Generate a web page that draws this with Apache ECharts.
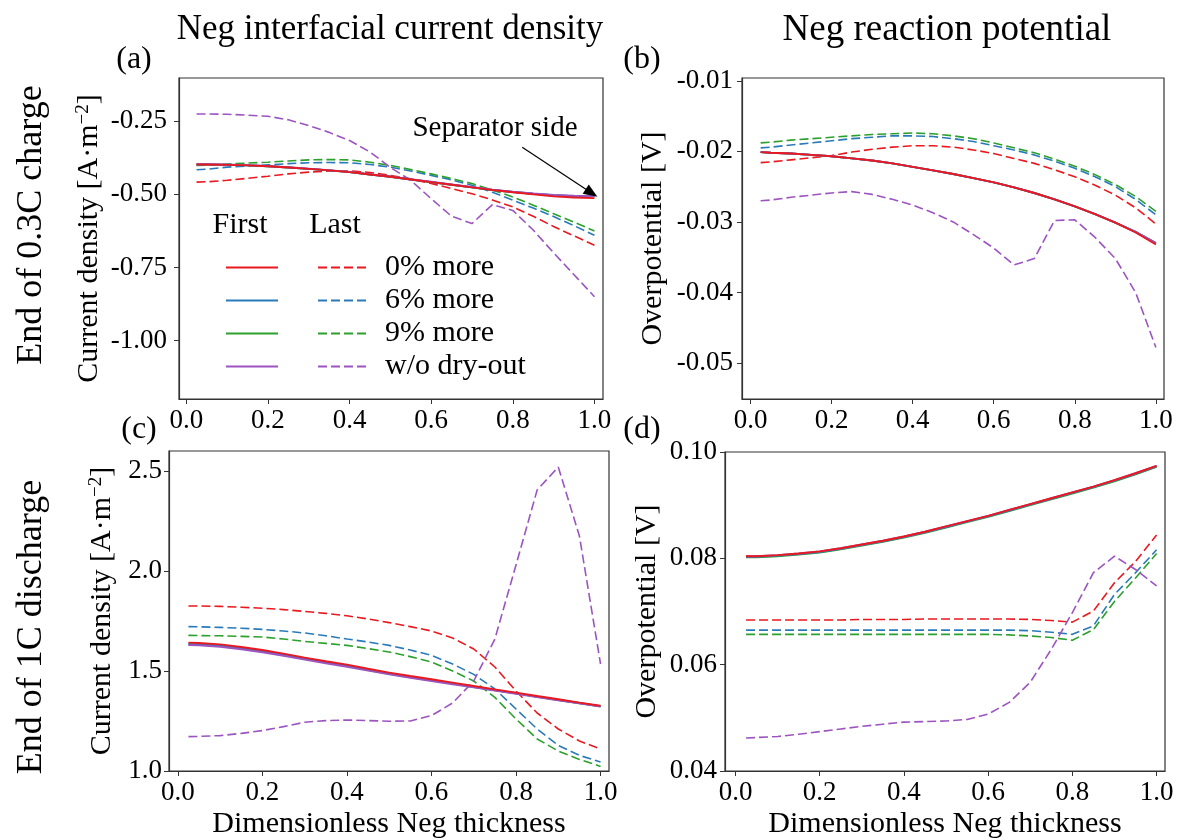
<!DOCTYPE html>
<html lang="en">
<head>
<meta charset="utf-8">
<script src="https://cdn.jsdelivr.net/npm/echarts@6/dist/echarts.min.js"></script>
</head>
<body style="margin:0">
<div id="container" style="width:1177px;height:840px"></div>
<script>
// dimensionless position across the negative electrode
var xs = [0.025, 0.05, 0.10, 0.15, 0.20, 0.25, 0.30, 0.35, 0.40, 0.45, 0.50,
          0.55, 0.60, 0.65, 0.70, 0.75, 0.80, 0.85, 0.90, 0.95, 1.00];
var cases = ['0% more', '6% more', '9% more', 'w/o dry-out'];
var xTicks = [0, 0.2, 0.4, 0.6, 0.8, 1.0];

// (a) end of 0.3C charge, current density
var aFirst0 = [-0.398, -0.398, -0.399, -0.401, -0.404, -0.408, -0.413, -0.418, -0.424, -0.432, -0.440, -0.449, -0.458, -0.467, -0.476, -0.485, -0.493, -0.500, -0.507, -0.511, -0.513];
var aFirst6 = [-0.398, -0.398, -0.399, -0.401, -0.404, -0.408, -0.413, -0.418, -0.424, -0.432, -0.440, -0.449, -0.458, -0.467, -0.476, -0.485, -0.492, -0.498, -0.503, -0.506, -0.507];
var aFirst9 = [-0.398, -0.398, -0.399, -0.401, -0.404, -0.408, -0.413, -0.418, -0.424, -0.432, -0.440, -0.449, -0.458, -0.467, -0.476, -0.485, -0.492, -0.498, -0.503, -0.506, -0.507];
var aFirstDry = [-0.397, -0.397, -0.398, -0.400, -0.403, -0.407, -0.412, -0.417, -0.423, -0.431, -0.439, -0.448, -0.457, -0.466, -0.475, -0.484, -0.491, -0.497, -0.502, -0.505, -0.506];
var aLast0 = [-0.458, -0.457, -0.452, -0.445, -0.438, -0.430, -0.424, -0.420, -0.420, -0.425, -0.435, -0.447, -0.463, -0.480, -0.498, -0.519, -0.543, -0.575, -0.610, -0.642, -0.674];
var aLast6 = [-0.416, -0.414, -0.407, -0.403, -0.399, -0.395, -0.392, -0.391, -0.392, -0.398, -0.407, -0.420, -0.435, -0.451, -0.469, -0.493, -0.520, -0.547, -0.576, -0.607, -0.640];
var aLast9 = [-0.401, -0.400, -0.396, -0.393, -0.390, -0.386, -0.382, -0.381, -0.382, -0.390, -0.401, -0.415, -0.430, -0.446, -0.463, -0.485, -0.509, -0.537, -0.566, -0.595, -0.625];
var aLastDry = [-0.225, -0.225, -0.226, -0.229, -0.233, -0.245, -0.265, -0.288, -0.316, -0.355, -0.408, -0.452, -0.515, -0.575, -0.600, -0.535, -0.555, -0.622, -0.700, -0.775, -0.850];
var aTicks = [-1.0, -0.75, -0.5, -0.25];

// (b) end of 0.3C charge, overpotential
var bFirst0 = [-0.0201, -0.0202, -0.0203, -0.0205, -0.0207, -0.0210, -0.0213, -0.0217, -0.0222, -0.0227, -0.0232, -0.0238, -0.0244, -0.0251, -0.0259, -0.0268, -0.0278, -0.0289, -0.0301, -0.0315, -0.0332];
var bFirst6 = [-0.0201, -0.0202, -0.0203, -0.0205, -0.0207, -0.0210, -0.0213, -0.0217, -0.0222, -0.0227, -0.0232, -0.0238, -0.0244, -0.0251, -0.0259, -0.0268, -0.0278, -0.0289, -0.0301, -0.0314, -0.0330];
var bFirst9 = [-0.0201, -0.0202, -0.0203, -0.0205, -0.0207, -0.0210, -0.0213, -0.0217, -0.0222, -0.0227, -0.0232, -0.0238, -0.0244, -0.0251, -0.0259, -0.0268, -0.0278, -0.0289, -0.0301, -0.0314, -0.0330];
var bFirstDry = [-0.0201, -0.0202, -0.0203, -0.0205, -0.0207, -0.0210, -0.0213, -0.0217, -0.0222, -0.0227, -0.0232, -0.0238, -0.0244, -0.0251, -0.0259, -0.0268, -0.0278, -0.0289, -0.0301, -0.0314, -0.0330];
var bLast0 = [-0.0216, -0.0215, -0.0212, -0.0209, -0.0206, -0.0201, -0.0197, -0.0194, -0.0192, -0.0192, -0.0194, -0.0198, -0.0203, -0.0210, -0.0217, -0.0226, -0.0236, -0.0248, -0.0262, -0.0280, -0.0303];
var bLast6 = [-0.0195, -0.0194, -0.0191, -0.0188, -0.0185, -0.0182, -0.0180, -0.0178, -0.0178, -0.0179, -0.0182, -0.0186, -0.0192, -0.0198, -0.0205, -0.0214, -0.0224, -0.0236, -0.0250, -0.0268, -0.0290];
var bLast9 = [-0.0188, -0.0187, -0.0184, -0.0182, -0.0180, -0.0178, -0.0176, -0.0175, -0.0174, -0.0175, -0.0178, -0.0182, -0.0188, -0.0195, -0.0202, -0.0211, -0.0221, -0.0233, -0.0247, -0.0264, -0.0285];
var bLastDry = [-0.0270, -0.0269, -0.0265, -0.0262, -0.0259, -0.0257, -0.0261, -0.0268, -0.0276, -0.0287, -0.0300, -0.0318, -0.0337, -0.0361, -0.0352, -0.0298, -0.0297, -0.0322, -0.0352, -0.0400, -0.0478];
var bTicks = [-0.05, -0.04, -0.03, -0.02, -0.01];

// (c) end of 1C discharge, current density
var cFirst0 = [1.642, 1.640, 1.633, 1.620, 1.605, 1.587, 1.567, 1.549, 1.532, 1.511, 1.492, 1.475, 1.459, 1.442, 1.425, 1.408, 1.392, 1.375, 1.359, 1.342, 1.326];
var cFirst6 = [1.635, 1.633, 1.626, 1.614, 1.599, 1.581, 1.562, 1.544, 1.526, 1.506, 1.487, 1.470, 1.454, 1.438, 1.421, 1.405, 1.389, 1.372, 1.356, 1.340, 1.324];
var cFirst9 = [1.634, 1.632, 1.625, 1.613, 1.598, 1.580, 1.561, 1.543, 1.525, 1.505, 1.486, 1.469, 1.453, 1.437, 1.420, 1.404, 1.388, 1.371, 1.355, 1.339, 1.323];
var cFirstDry = [1.630, 1.628, 1.621, 1.609, 1.594, 1.576, 1.557, 1.539, 1.521, 1.502, 1.483, 1.466, 1.450, 1.434, 1.418, 1.402, 1.386, 1.370, 1.354, 1.338, 1.322];
var cLast0 = [1.825, 1.825, 1.823, 1.819, 1.814, 1.807, 1.798, 1.788, 1.776, 1.760, 1.742, 1.722, 1.700, 1.665, 1.610, 1.520, 1.400, 1.290, 1.210, 1.150, 1.110];
var cLast6 = [1.722, 1.721, 1.718, 1.714, 1.708, 1.700, 1.690, 1.676, 1.660, 1.645, 1.628, 1.605, 1.578, 1.535, 1.483, 1.410, 1.310, 1.210, 1.128, 1.078, 1.045];
var cLast9 = [1.678, 1.677, 1.676, 1.673, 1.670, 1.660, 1.648, 1.638, 1.628, 1.612, 1.595, 1.572, 1.545, 1.500, 1.450, 1.368, 1.260, 1.160, 1.100, 1.058, 1.023];
var cLastDry = [1.172, 1.173, 1.177, 1.188, 1.202, 1.222, 1.244, 1.252, 1.255, 1.252, 1.249, 1.250, 1.277, 1.340, 1.450, 1.660, 2.030, 2.405, 2.520, 2.175, 1.535];
var cTicks = [1.0, 1.5, 2.0, 2.5];

// (d) end of 1C discharge, overpotential
var dFirst0 = [0.0804, 0.0804, 0.0806, 0.0809, 0.0813, 0.0819, 0.0826, 0.0833, 0.0841, 0.0850, 0.0860, 0.0870, 0.0880, 0.0891, 0.0902, 0.0913, 0.0924, 0.0935, 0.0947, 0.0960, 0.0974];
var dFirst6 = [0.0803, 0.0803, 0.0805, 0.0808, 0.0812, 0.0818, 0.0825, 0.0832, 0.0840, 0.0849, 0.0859, 0.0869, 0.0879, 0.0890, 0.0901, 0.0912, 0.0923, 0.0934, 0.0946, 0.0959, 0.0973];
var dFirst9 = [0.0802, 0.0802, 0.0804, 0.0807, 0.0811, 0.0817, 0.0824, 0.0831, 0.0839, 0.0848, 0.0858, 0.0868, 0.0878, 0.0889, 0.0900, 0.0911, 0.0922, 0.0933, 0.0945, 0.0958, 0.0972];
var dFirstDry = [0.0804, 0.0804, 0.0806, 0.0809, 0.0813, 0.0819, 0.0826, 0.0833, 0.0841, 0.0850, 0.0860, 0.0870, 0.0880, 0.0891, 0.0902, 0.0913, 0.0924, 0.0935, 0.0947, 0.0960, 0.0974];
var dLast0 = [0.0684, 0.0684, 0.0684, 0.0684, 0.0684, 0.0684, 0.0685, 0.0685, 0.0685, 0.0686, 0.0686, 0.0686, 0.0686, 0.0686, 0.0685, 0.0683, 0.0680, 0.0701, 0.0754, 0.0794, 0.0844];
var dLast6 = [0.0665, 0.0665, 0.0665, 0.0665, 0.0665, 0.0665, 0.0665, 0.0665, 0.0665, 0.0665, 0.0665, 0.0665, 0.0665, 0.0665, 0.0664, 0.0661, 0.0657, 0.0673, 0.0732, 0.0773, 0.0816];
var dLast9 = [0.0657, 0.0657, 0.0657, 0.0657, 0.0657, 0.0657, 0.0657, 0.0657, 0.0657, 0.0657, 0.0657, 0.0657, 0.0657, 0.0656, 0.0654, 0.0651, 0.0646, 0.0666, 0.0719, 0.0763, 0.0809];
var dLastDry = [0.0462, 0.0463, 0.0465, 0.0469, 0.0474, 0.0479, 0.0484, 0.0488, 0.0492, 0.0493, 0.0494, 0.0497, 0.0507, 0.0529, 0.0567, 0.0629, 0.0698, 0.0773, 0.0804, 0.0779, 0.0748];
var dTicks = [0.04, 0.06, 0.08, 0.10];

// arrow pointing at the separator side in (a)
var arrowFrom = [0.823, -0.339];
var arrowTo = [0.993, -0.495];

var colors = ['#e8191f', '#2a7ab9', '#2ca02c', '#9c55c0'];
var FAMILY = 'Liberation Serif';
var AXIS = '#333';

var dom = document.getElementById('container');
var myChart = echarts.init(dom, null, { renderer: 'canvas' });

var panels = [
  { first: [aFirst0, aFirst6, aFirst9, aFirstDry], last: [aLast0, aLast6, aLast9, aLastDry],
    grid: { left: 179, top: 78, width: 424, height: 321 }, xr: [-0.018, 1.021], yr: [-1.2, -0.102],
    ticks: aTicks, digits: 2, margin: 12, nameGap: 75, name: 'cd' },
  { first: [bFirst0, bFirst6, bFirst9, bFirstDry], last: [bLast0, bLast6, bLast9, bLastDry],
    grid: { left: 742, top: 78, width: 422, height: 321 }, xr: [-0.021, 1.02], yr: [-0.0551, -0.0096],
    ticks: bTicks, digits: 2, margin: 9, nameGap: 74, name: 'op' },
  { first: [cFirst0, cFirst6, cFirst9, cFirstDry], last: [cLast0, cLast6, cLast9, cLastDry],
    grid: { left: 169, top: 451, width: 440, height: 321 }, xr: [-0.021, 1.02], yr: [1.0, 2.6],
    ticks: cTicks, digits: 1, margin: 7, nameGap: 52, name: 'cd', xname: true },
  { first: [dFirst0, dFirst6, dFirst9, dFirstDry], last: [dLast0, dLast6, dLast9, dLastDry],
    grid: { left: 725, top: 452, width: 440, height: 320 }, xr: [-0.025, 1.02], yr: [0.04, 0.10],
    ticks: dTicks, digits: 2, margin: 8, nameGap: 63, name: 'op', xname: true }
];

var grids = [], xAxes = [], yAxes = [], series = [];
panels.forEach(function (p, i) {
  grids.push(Object.assign({ show: true, borderColor: AXIS, borderWidth: 1.2, backgroundColor: 'transparent' }, p.grid));
  xAxes.push({
    type: 'value', gridIndex: i, min: p.xr[0], max: p.xr[1],
    axisLine: { show: true, onZero: false, lineStyle: { color: AXIS, width: 1.2 } },
    axisTick: { show: true, length: 5, customValues: xTicks, lineStyle: { color: AXIS } },
    axisLabel: { customValues: xTicks, margin: 8, fontSize: 27, fontFamily: FAMILY, color: '#000',
      formatter: function (v) { return v.toFixed(1); } },
    splitLine: { show: false },
    name: p.xname ? 'Dimensionless Neg thickness' : '', nameLocation: 'middle', nameGap: 38,
    nameTextStyle: { fontSize: 30, fontFamily: FAMILY, color: '#000' }
  });
  yAxes.push({
    type: 'value', gridIndex: i, min: p.yr[0], max: p.yr[1],
    axisLine: { show: true, onZero: false, lineStyle: { color: AXIS, width: 1.2 } },
    axisTick: { show: true, length: 5, customValues: p.ticks, lineStyle: { color: AXIS } },
    axisLabel: { customValues: p.ticks, margin: p.margin, fontSize: 27, fontFamily: FAMILY, color: '#000',
      formatter: (function (d) { return function (v) { return v.toFixed(d); }; })(p.digits) },
    splitLine: { show: false },
    name: p.name === 'cd' ? '{n|Current density [A·m}{s|−2}{n|]}' : 'Overpotential [V]',
    nameLocation: 'middle', nameGap: p.nameGap, nameRotate: 90,
    nameTextStyle: { fontSize: 30, fontFamily: FAMILY, color: '#000',
      rich: { n: { fontSize: 30, fontFamily: FAMILY, color: '#000' },
              s: { fontSize: 19, fontFamily: FAMILY, color: '#000', verticalAlign: 'top' } } }
  });
  var order = [2, 1, 3, 0];
  order.forEach(function (k) {
    series.push({
      type: 'line', name: 'First ' + cases[k], xAxisIndex: i, yAxisIndex: i,
      symbol: 'none', color: colors[k], z: 3,
      lineStyle: { width: 1.9, color: colors[k], type: 'solid' },
      data: xs.map(function (x, j) { return [x, p.first[k][j]]; })
    });
  });
  cases.forEach(function (c, k) {
    series.push({
      type: 'line', name: 'Last ' + c, xAxisIndex: i, yAxisIndex: i,
      symbol: 'none', color: colors[k], z: 2,
      lineStyle: { width: 1.6, color: colors[k], type: [9, 4] },
      data: xs.map(function (x, j) { return [x, p.last[k][j]]; })
    });
  });
});

// annotation arrow on panel (a)
series.push({
  type: 'line', name: 'arrow', xAxisIndex: 0, yAxisIndex: 0, data: [], symbol: 'none',
  markLine: {
    silent: true, animation: false, symbol: ['none', 'triangle'], symbolSize: [11, 14],
    lineStyle: { color: '#000', width: 1.2, type: 'solid' }, label: { show: false },
    data: [[{ coord: arrowFrom }, { coord: arrowTo }]]
  }
});

function txt(x, y, s, size, rot) {
  return { type: 'text', x: x, y: y, rotation: rot || 0, silent: true,
    style: { text: s, fontSize: size, fontFamily: FAMILY, fill: '#000',
      textAlign: 'center', textVerticalAlign: 'middle', align: 'center', verticalAlign: 'middle' } };
}

option = {
  animation: false,
  backgroundColor: '#fff',
  textStyle: { fontFamily: FAMILY },
  grid: grids,
  xAxis: xAxes,
  yAxis: yAxes,
  series: series,
  legend: [
    { data: cases.map(function (c) { return 'First ' + c; }), orient: 'vertical', left: 220, top: 246,
      itemWidth: 52, itemHeight: 6, itemGap: 0, selectedMode: false,
      itemStyle: { opacity: 0 },
      formatter: function () { return ' '; },
      textStyle: { fontSize: 30, lineHeight: 33, fontFamily: FAMILY } },
    { data: cases.map(function (c) { return 'Last ' + c; }), orient: 'vertical', left: 312, top: 246,
      itemWidth: 48, itemHeight: 6, itemGap: 0, selectedMode: false,
      itemStyle: { opacity: 0 },
      formatter: function (n) { return n.slice(5); },
      textStyle: { fontSize: 30, lineHeight: 33, fontFamily: FAMILY, color: '#000', padding: [0, 0, 0, 14] } }
  ],
  graphic: [
    txt(390, 30, 'Neg interfacial current density', 35),
    txt(947, 30, 'Neg reaction potential', 37),
    txt(134, 60, '(a)', 32),
    txt(642, 60, '(b)', 32),
    txt(139, 430, '(c)', 32),
    txt(642, 430, '(d)', 32),
    txt(32, 225, 'End of 0.3C charge', 36, Math.PI / 2),
    txt(32, 627, 'End of 1C discharge', 36, Math.PI / 2),
    txt(240, 225, 'First', 30),
    txt(335, 225, 'Last', 30),
    txt(495, 128, 'Separator side', 29)
  ]
};

myChart.setOption(option);
window.addEventListener('resize', myChart.resize);
</script>
</body>
</html>
